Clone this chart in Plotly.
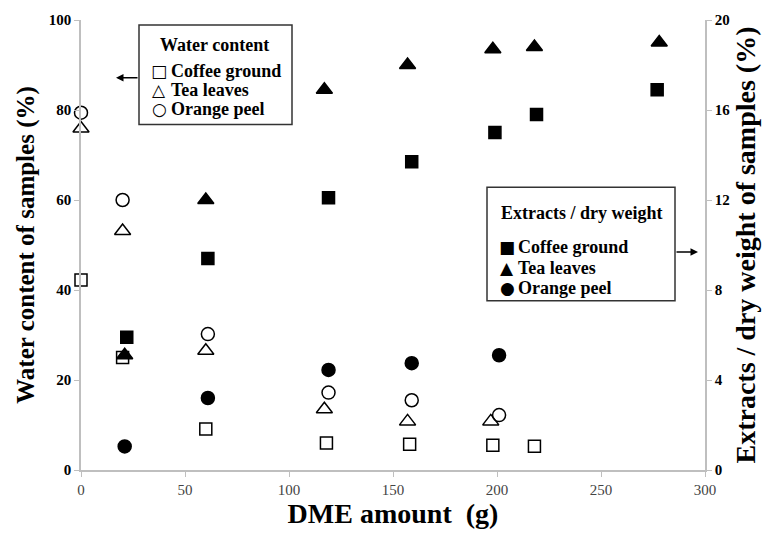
import plotly.graph_objects as go

# Water content (%) – left axis
cg_w_x = [0, 20, 60, 118, 158, 198, 218]
cg_w_y = [42.2, 25.0, 9.1, 6.0, 5.7, 5.5, 5.3]
tl_w_x = [0, 20, 60, 117, 157, 197]
tl_w_y = [75.9, 53.1, 26.5, 13.5, 10.8, 10.8]
op_w_x = [0, 20, 61, 119, 159, 201]
op_w_y = [79.4, 60.0, 30.2, 17.2, 15.5, 12.2]

# Extracts / dry weight (%) – right axis
cg_e_x = [22, 61, 119, 159, 199, 219, 277]
cg_e_y = [5.9, 9.4, 12.1, 13.7, 15.0, 15.8, 16.9]
tl_e_x = [21, 60, 117, 157, 198, 218, 278]
tl_e_y = [5.1, 12.0, 16.9, 18.0, 18.7, 18.8, 19.0]
op_e_x = [21, 61, 119, 159, 201]
op_e_y = [1.05, 3.2, 4.45, 4.75, 5.1]

series_names = ["Coffee ground", "Tea leaves", "Orange peel"]
open_glyphs = ["□", "△", "○"]
filled_glyphs = ["■", "▲", "●"]

FONT = "Liberation Serif"
GRAY = "#bfbfbf"

# plot area in pixels (for the hand-drawn legend boxes)
L, R, T, B = 81, 705, 18, 470
W, H = R - L, B - T


def px(x):
    return (x - L) / W


def py(y):
    return (B - y) / H


fig = go.Figure()


def add(x, y, name, symbol, size, yaxis):
    fig.add_trace(go.Scatter(
        x=x, y=y, mode="markers", name=name, yaxis=yaxis, showlegend=False,
        cliponaxis=False,
        marker=dict(symbol=symbol, size=size, color="black",
                    line=dict(color="black", width=1.5)),
    ))


add(cg_w_x, cg_w_y, series_names[0], "square-open", 12, "y")
add(tl_w_x, tl_w_y, series_names[1], "triangle-up-open", 14, "y")
add(op_w_x, op_w_y, series_names[2], "circle-open", 13, "y")
add(cg_e_x, cg_e_y, series_names[0], "square", 12, "y2")
add(tl_e_x, tl_e_y, series_names[1], "triangle-up", 14, "y2")
add(op_e_x, op_e_y, series_names[2], "circle", 13, "y2")

axis_common = dict(showgrid=False, zeroline=False, showline=True, linecolor=GRAY,
                   linewidth=1.5, ticks="outside", ticklen=5, tickcolor=GRAY)

fig.update_layout(
    width=775, height=541,
    margin=dict(l=L, r=775 - R, t=T, b=541 - B),
    paper_bgcolor="white", plot_bgcolor="white",
    font=dict(family=FONT, color="black"),
    showlegend=False,
    xaxis=dict(range=[0, 300], dtick=50, **axis_common,
               tickfont=dict(family=FONT, size=15, color="#444444"),
               title=dict(text="<b>DME amount  (g)</b>", font=dict(family=FONT, size=28),
                          standoff=4)),
    yaxis=dict(range=[0, 100], dtick=20, **axis_common,
               tickfont=dict(family=FONT, size=15),
               tickprefix="<b>", ticksuffix="</b>",
               title=dict(text="<b>Water content of samples (%)</b>",
                          font=dict(family=FONT, size=25), standoff=7)),
    yaxis2=dict(range=[0, 20], dtick=4, overlaying="y", side="right", **axis_common,
                tickfont=dict(family=FONT, size=15),
                tickprefix="<b>", ticksuffix="</b>",
                title=dict(text="<b>Extracts / dry weight of samples (%)</b>",
                           font=dict(family=FONT, size=28), standoff=5)),
)


def legend_box(x0, y0, x1, y1, title, title_cx, title_y, glyphs, gx, tx, ys):
    fig.add_shape(type="rect", xref="paper", yref="paper",
                  x0=px(x0), x1=px(x1), y0=py(y1), y1=py(y0),
                  line=dict(color="#333333", width=1.5), fillcolor="white", layer="above")
    fig.add_annotation(xref="paper", yref="paper", x=px(title_cx), y=py(title_y),
                       text="<b>%s</b>" % title, showarrow=False, xanchor="center",
                       yanchor="middle", font=dict(family=FONT, size=18, color="black"))
    for g, name, yy in zip(glyphs, series_names, ys):
        fig.add_annotation(xref="paper", yref="paper", x=px(gx), y=py(yy), text=g,
                           showarrow=False, xanchor="center", yanchor="middle",
                           font=dict(family="DejaVu Sans", size=17, color="black"))
        fig.add_annotation(xref="paper", yref="paper", x=px(tx), y=py(yy),
                           text="<b>%s</b>" % name, showarrow=False, xanchor="left",
                           yanchor="middle", font=dict(family=FONT, size=18, color="black"))


legend_box(139, 23, 292, 123, "Water content", 214, 43, open_glyphs, 159, 169, [69, 88, 107])
legend_box(487, 186, 675, 300, "Extracts / dry weight", 581, 212, filled_glyphs, 507, 516,
           [246, 267, 287])

# arrows pointing to the respective axes
fig.add_annotation(xref="paper", yref="paper", x=px(116), y=py(76),
                   ax=23, ay=0, text="", showarrow=True, arrowhead=2, arrowsize=1,
                   arrowwidth=1.5, arrowcolor="black")
fig.add_annotation(xref="paper", yref="paper", x=px(698), y=py(251),
                   ax=-23, ay=0, text="", showarrow=True, arrowhead=2, arrowsize=1,
                   arrowwidth=1.5, arrowcolor="black")

fig.write_html("out.html")
